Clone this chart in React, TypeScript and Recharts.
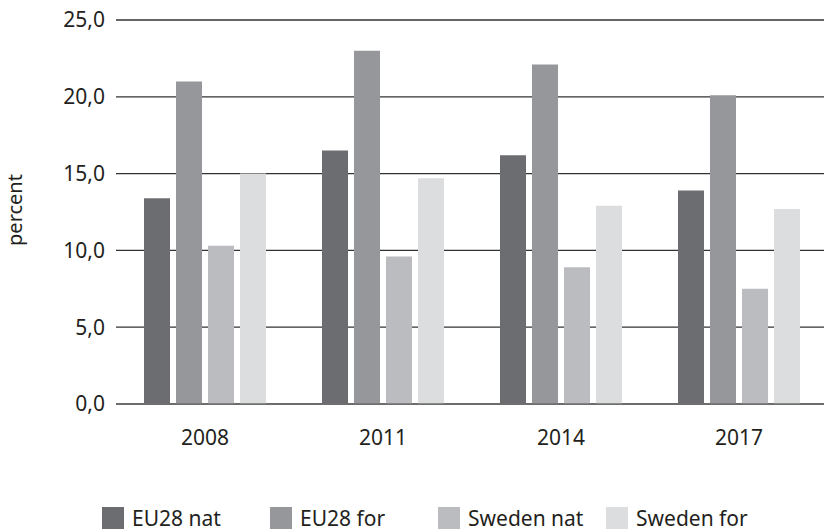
import { Bar, BarChart, CartesianGrid, Legend, XAxis, YAxis } from 'recharts';

const years = ['2008', '2011', '2014', '2017'];
const eu28Nat = [13.4, 16.5, 16.2, 13.9];
const eu28For = [21.0, 23.0, 22.1, 20.1];
const swedenNat = [10.3, 9.6, 8.9, 7.5];
const swedenFor = [15.0, 14.7, 12.9, 12.7];
const yTicks = [0, 5, 10, 15, 20, 25];

const series = [
  { key: 'eu28Nat', name: 'EU28 nat', color: '#6c6d71' },
  { key: 'eu28For', name: 'EU28 for', color: '#96979b' },
  { key: 'swedenNat', name: 'Sweden nat', color: '#bbbcc0' },
  { key: 'swedenFor', name: 'Sweden for', color: '#dcdddf' },
];

const data = years.map((year, i) => ({
  year,
  eu28Nat: eu28Nat[i],
  eu28For: eu28For[i],
  swedenNat: swedenNat[i],
  swedenFor: swedenFor[i],
}));

const FONT = '"Noto Sans", sans-serif';
const TEXT = '#231f20';

const CustomLegend = () => (
  <div style={{ display: 'flex', fontFamily: FONT, fontSize: 21, color: TEXT }}>
    {series.map((s) => (
      <div key={s.key} style={{ width: 168, height: 22, display: 'flex', alignItems: 'center' }}>
        <span style={{ width: 22, height: 22, background: s.color, marginRight: 8, display: 'inline-block' }} />
        <span style={{ lineHeight: '22px' }}>{s.name}</span>
      </div>
    ))}
  </div>
);

const YLabel = ({ viewBox }: any) => {
  const x = viewBox.x + 22;
  const y = viewBox.y + viewBox.height / 2 - 2;
  return (
    <text
      x={x}
      y={y}
      transform={`rotate(-90, ${x}, ${y})`}
      textAnchor="middle"
      fontFamily={FONT}
      fontSize={20}
      fill={TEXT}
    >
      percent
    </text>
  );
};

const App = () => {
  return (
    <div style={{ position: 'absolute', left: 0, top: 0, width: 824, height: 531, overflow: 'hidden', background: '#fff' }}>
      <BarChart
        width={828}
        height={531}
        data={data}
        margin={{ top: 20, right: 0, left: 0, bottom: 0 }}
        barSize={26}
        barGap={6}
      >
        <CartesianGrid vertical={false} stroke="#333" strokeWidth={1.3} />
        <XAxis
          dataKey="year"
          height={127}
          axisLine={{ stroke: '#707070', strokeWidth: 1.5 }}
          tickLine={false}
          tickMargin={20}
          tick={{ fill: TEXT, fontSize: 21, fontFamily: FONT }}
        />
        <YAxis
          width={116}
          domain={[0, 25]}
          ticks={yTicks}
          interval={0}
          axisLine={false}
          tickLine={false}
          tickMargin={5}
          tickFormatter={(v: number) => v.toFixed(1).replace('.', ',')}
          tick={{ fill: TEXT, fontSize: 21, fontFamily: FONT }}
          label={<YLabel />}
        />
        <Legend
          layout="horizontal"
          verticalAlign="middle"
          align="center"
          content={<CustomLegend />}
          wrapperStyle={{ top: 507, left: 102, width: 700 }}
        />
        {series.map((s) => (
          <Bar key={s.key} dataKey={s.key} name={s.name} fill={s.color} isAnimationActive={false} />
        ))}
      </BarChart>
    </div>
  );
};

export default App;
